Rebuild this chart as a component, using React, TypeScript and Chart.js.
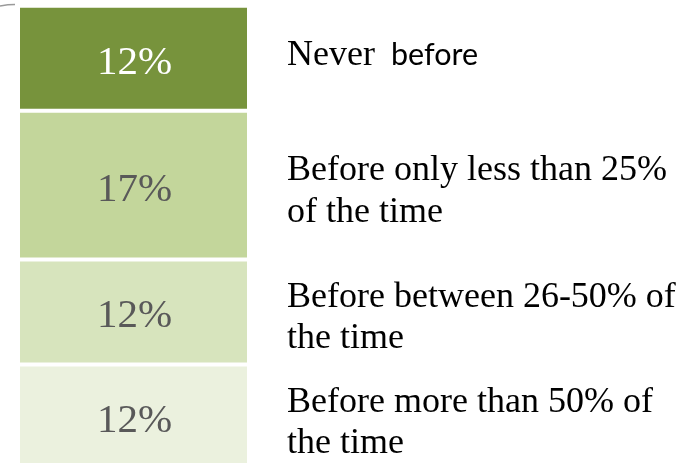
import React, { useEffect, useRef } from 'react';
import { Chart, registerables } from 'chart.js';

Chart.register(...registerables);

// Survey answers, listed from the top of the stacked column down
const categories = [
  'Never before',
  'Before only less than 25% of the time',
  'Before between 26-50% of the time',
  'Before more than 50% of the time',
];
const shares = [12, 17, 12, 12];
const fills = ['#77933C', '#C3D69B', '#D7E4BD', '#EBF1DE'];
const valueColors = ['#FFFFFF', '#595959', '#595959', '#595959'];

// Category text as wrapped lines; each line is a list of runs (sans marks the sans-serif run)
type Run = { text: string; sans?: boolean; dx?: number };
const labelLines: Run[][][] = [
  [[{ text: 'Never ' }, { text: 'before', sans: true, dx: 7 }]],
  [[{ text: 'Before only less than 25%' }], [{ text: 'of the time' }]],
  [[{ text: 'Before between 26-50% of' }], [{ text: 'the time' }]],
  [[{ text: 'Before more than 50% of' }], [{ text: 'the time' }]],
];

const SERIF = '"Liberation Serif", "Times New Roman", serif';
const SANS = 'Lato, "Liberation Sans", sans-serif';

const labelPlugin = {
  id: 'segmentLabels',
  afterDatasetsDraw(chart: Chart) {
    const ctx = chart.ctx;
    ctx.save();
    // small stray stroke at the top-left corner
    ctx.strokeStyle = '#9a9a9a';
    ctx.lineWidth = 1.5;
    ctx.beginPath();
    ctx.moveTo(0, 6);
    ctx.quadraticCurveTo(8, 4.5, 15, 4.5);
    ctx.stroke();

    const n = categories.length;
    chart.data.datasets.forEach((_ds, di) => {
      const idx = n - 1 - di; // datasets are stacked bottom-up
      const bar: any = chart.getDatasetMeta(di).data[0];
      if (!bar) return;
      const cy = (bar.y + bar.base) / 2;
      const cx = bar.x;

      // value inside the segment
      ctx.font = `41px ${SERIF}`;
      ctx.fillStyle = valueColors[idx];
      ctx.textAlign = 'center';
      ctx.textBaseline = 'alphabetic';
      ctx.fillText(`${shares[idx]}%`, cx + 1, cy + 15.5);

      // category text to the right
      const lines = labelLines[idx];
      const step = 41.5;
      const first = lines.length === 1 ? cy + 6.5 : cy - 5;
      ctx.fillStyle = '#000000';
      ctx.textAlign = 'left';
      lines.forEach((runs, li) => {
        let x = 287;
        const y = first + li * step;
        runs.forEach((r) => {
          ctx.font = r.sans ? `30.5px ${SANS}` : `36px ${SERIF}`;
          x += r.dx || 0;
          ctx.fillText(r.text, x, y);
          x += ctx.measureText(r.text).width;
        });
      });
    });
    ctx.restore();
  },
};

export default function App() {
  const ref = useRef<HTMLCanvasElement | null>(null);

  useEffect(() => {
    if (!ref.current) return;
    const order = categories.map((_, i) => i).reverse();
    const chart = new Chart(ref.current, {
      type: 'bar',
      data: {
        labels: ['share'],
        datasets: order.map((i) => ({
          label: categories[i],
          data: [shares[i]],
          backgroundColor: fills[i],
          borderColor: '#FFFFFF',
          borderWidth: 2,
          borderSkipped: false,
          inflateAmount: 0,
          barPercentage: 1,
          categoryPercentage: 1,
        })),
      },
      options: {
        animation: false,
        responsive: false,
        maintainAspectRatio: false,
        layout: { padding: { left: 18, right: 447, top: 0, bottom: 0 } },
        plugins: { legend: { display: false }, tooltip: { enabled: false } },
        scales: {
          x: { stacked: true, display: false },
          y: { stacked: true, display: false, min: 0.74, max: 53.65 },
        },
      },
      plugins: [labelPlugin],
    });
    return () => chart.destroy();
  }, []);

  return (
    <div style={{ position: 'fixed', left: 0, top: 0, width: 696, height: 463, background: '#FFFFFF' }}>
      <canvas ref={ref} width={696} height={463} style={{ display: 'block', width: 696, height: 463 }} />
    </div>
  );
}
